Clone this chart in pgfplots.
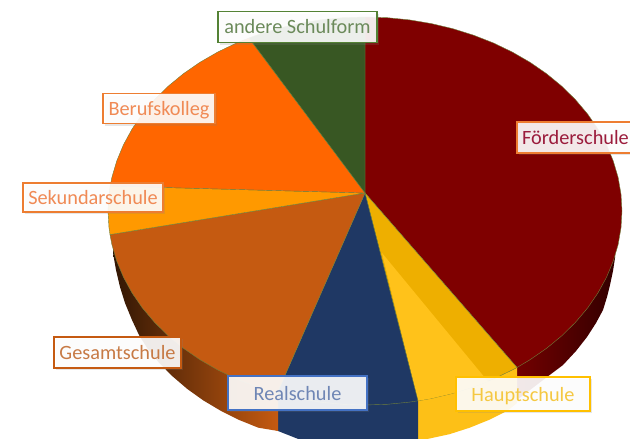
\documentclass[border=0pt]{standalone}
\usepackage{fontspec}
\setmainfont{Carlito}
\usepackage{pgfplots}
\pgfplotsset{compat=1.18}
\usetikzlibrary{shadows}
\definecolor{foerder}{HTML}{7F0000}
\definecolor{hauptd}{HTML}{EEAF00}
\definecolor{hauptl}{HTML}{FFC21A}
\definecolor{real}{HTML}{1F3864}
\definecolor{gesamt}{HTML}{C55A11}
\definecolor{sekund}{HTML}{FF9900}
\definecolor{beruf}{HTML}{FF6600}
\definecolor{andere}{HTML}{385723}
\definecolor{seam}{HTML}{6F7F3A}
\definecolor{bA}{HTML}{548235}\definecolor{tA}{HTML}{6B8A5A}
\definecolor{bB}{HTML}{ED7D31}\definecolor{tB}{HTML}{F08A55}
\definecolor{bG}{HTML}{C55A11}\definecolor{tG}{HTML}{C77A45}
\definecolor{bR}{HTML}{4472C4}\definecolor{tR}{HTML}{6F86B5}
\definecolor{bH}{HTML}{FFC000}\definecolor{tH}{HTML}{F5C842}
\definecolor{tF}{HTML}{9B1C3C}
\tikzset{lab/.style n args={4}{draw=#1,text=#2,fill=white,fill opacity=.9,text opacity=1,line width=1.2pt,
  inner sep=0pt,minimum width=#3,minimum height=#4,text height=16pt,text depth=2pt,font=\fontsize{20.3}{24}\selectfont,
  drop shadow={opacity=.2,shadow xshift=2pt,shadow yshift=-2pt}}}
\begin{document}
\begin{tikzpicture}
\clip (0,0) rectangle (630pt,439pt);
\begin{axis}[at={(0,0)},anchor=south west,width=630pt,height=439pt,scale only axis,
  xmin=0,xmax=630,ymin=0,ymax=439,y dir=reverse,hide axis,no markers,clip=true]
% side surface
\addplot[left color=foerder!90!black,right color=black!60!foerder,draw=none] coordinates {
(517,360)(517,400)(530,390)(547,377)(563,365)(576,351)(587,337)(596,323)(603,310)(607,297)(610,285)(613,271)(615,258)(615,220)} -- cycle;
\addplot[fill=hauptl!90!hauptd,draw=none] coordinates {
(418,395)(418,441)(449.5,434.2)(469.7,427.7)(489,419.9)(507.4,410.7)(517,403)(517,360)} -- cycle;
\addplot[fill=real,draw=none] coordinates {
(278,385)(278,431)(299.3,439.4)(320.6,443)(364,446)(407.4,443)(418,441)(418,395)} -- cycle;
\addplot[left color=black!75!gesamt,middle color=gesamt!92!black,right color=gesamt,draw=none] coordinates {
(278,385)(278,431)(258.3,427.7)(239,419.9)(220.6,410.7)(203.3,400.4)(187.2,388.9)(172.5,376.3)(159.2,362.9)(147.5,348.5)(139,335)(132,320)(125,303)(120,287)(116,270)(113,253)(114,235)} -- cycle;
% top face
\addplot[fill=foerder,draw=seam,line width=.4pt] coordinates {
(365,193)(365,17)(387.4,17.7)(409.6,19.9)(431.5,23.6)(452.9,28.7)(473.6,35.2)(493.5,43)(512.4,52.1)(530.2,62.4)(546.7,73.8)(561.9,86.3)(575.5,99.7)(587.6,114)(597.9,129)(606.5,144.7)(613.2,160.8)(618.1,177.3)(621,194.1)(622,211)(621,227.9)(618.1,244.7)(613.2,261.2)(606.5,277.3)(597.9,293)(587.6,308)(575.5,322.3)(561.9,335.7)(546.7,348.2)(530.2,359.6)(517,367.5)} -- cycle;
\addplot[fill=hauptd,draw=seam,line width=.4pt] coordinates {
(365,193)(517,367.5)(512.4,369.9)(493.5,379)(473.6,386.8)(452.9,393.3)(431.5,398.4)(418,400.8)} -- cycle;
\addplot[fill=hauptl,draw=none] coordinates {
(382,253)(418,400.8)(431.5,398.4)(452.9,393.3)(473.6,386.8)(488,381.5)} -- cycle;
\addplot[fill=real,draw=seam,line width=.4pt] coordinates {
(365,193)(418,400.8)(409.6,402.1)(387.4,404.3)(365,405)(342.6,404.3)(320.4,402.1)(298.5,398.4)(277.1,393.3)} -- cycle;
\addplot[fill=gesamt,draw=seam,line width=.4pt] coordinates {
(365,193)(277.1,393.3)(256.4,386.8)(236.5,379)(217.6,369.9)(199.8,359.6)(183.3,348.2)(168.1,335.7)(154.5,322.3)(142.4,308)(132.1,293)(123.5,277.3)(116.8,261.2)(111.9,244.7)(110,234.6)} -- cycle;
\addplot[fill=sekund,draw=seam,line width=.4pt] coordinates {
(365,193)(110,234.6)(109,227.9)(108,211)(109,194.1)(110.2,186)} -- cycle;
\addplot[fill=beruf,draw=seam,line width=.4pt] coordinates {
(365,193)(110.2,186)(111.9,177.3)(116.8,160.8)(123.5,144.7)(132.1,129)(142.4,114)(154.5,99.7)(168.1,86.3)(183.3,73.8)(199.8,62.4)(217.6,52.1)(236.5,43)(249,38)} -- cycle;
\addplot[fill=andere,draw=seam,line width=.4pt] coordinates {
(365,193)(249,38)(256.4,35.2)(277.1,28.7)(298.5,23.6)(320.4,19.9)(342.6,17.7)(365,17)} -- cycle;
% labels
\node[lab={bA}{tA}{159pt}{31pt}] at (axis cs:297.5,27) {andere Schulform};
\node[lab={bB}{tB}{112pt}{30pt}] at (axis cs:159,108.5) {Berufskolleg};
\node[lab={bB}{tB}{140pt}{29pt}] at (axis cs:93,197.5) {Sekundarschule};
\node[lab={bG}{tG}{127pt}{31pt}] at (axis cs:117.5,352.5) {Gesamtschule};
\node[lab={bR}{tR}{139pt}{34pt}] at (axis cs:297.5,393) {Realschule};
\node[lab={bH}{tH}{134pt}{34pt}] at (axis cs:523,394) {Hauptschule};
\node[lab={bB}{tF}{117pt}{31pt}] at (axis cs:575.5,137.5) {Förderschule};
\end{axis}
\end{tikzpicture}
\end{document}
